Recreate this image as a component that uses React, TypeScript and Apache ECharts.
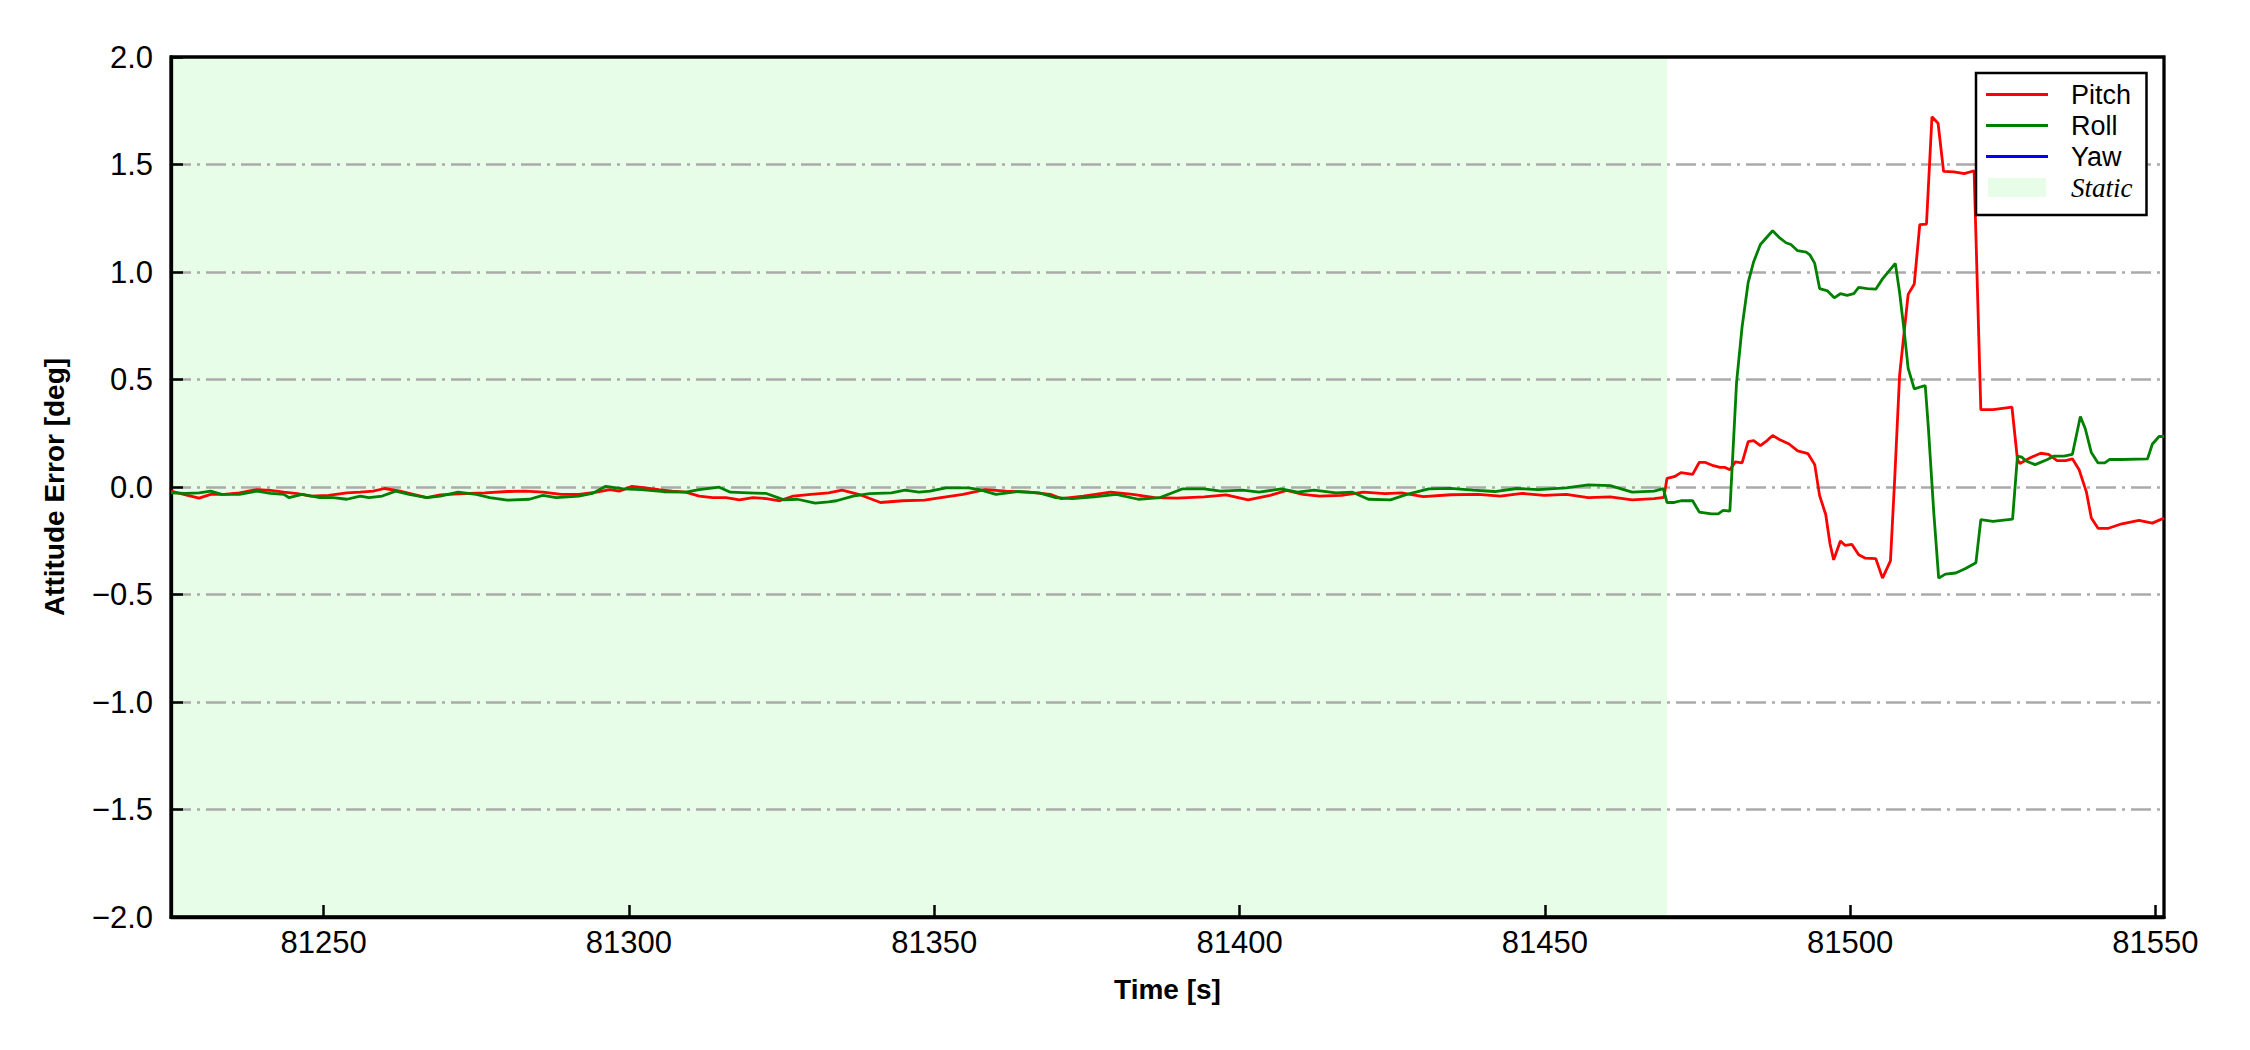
import React, { useEffect, useRef } from "react";
import * as echarts from "echarts";

// ---------- data ----------
const xTickValues = [81250, 81300, 81350, 81400, 81450, 81500, 81550];
const xMin = 81225;
const xMax = 81551.4;
const staticSpan = [81225, 81470];

const pitchTime = [
  81225.0, 81227.4, 81229.6, 81231.5, 81233.7, 81236.2, 81239.1, 81241.3, 81243.5, 81245.7,
  81247.9, 81250.8, 81253.8, 81256.0, 81258.1, 81260.0, 81262.5, 81264.7, 81266.9, 81269.1,
  81272.8, 81276.4, 81280.1, 81283.0, 81285.9, 81288.9, 81291.8, 81294.7, 81296.9, 81298.4,
  81300.5, 81302.7, 81304.9, 81307.1, 81309.3, 81311.5, 81313.7, 81315.9, 81318.1, 81320.3,
  81322.5, 81324.7, 81326.9, 81329.8, 81332.7, 81334.9, 81337.6, 81341.2, 81344.8, 81348.4,
  81351.1, 81354.7, 81358.3, 81361.8, 81365.4, 81369.0, 81370.8, 81374.4, 81378.9, 81382.5,
  81386.1, 81389.7, 81394.2, 81397.8, 81401.4, 81405.0, 81407.7, 81410.4, 81413.1, 81416.7,
  81420.3, 81423.8, 81426.5, 81430.1, 81434.6, 81439.1, 81442.7, 81446.3, 81449.9, 81453.5,
  81457.1, 81460.7, 81464.3, 81467.9, 81469.5,
  81470.0, 81471.2, 81472.3, 81474.2, 81475.3, 81476.2, 81477.6, 81478.7, 81479.5, 81480.3,
  81481.2, 81482.3, 81483.3, 81484.2, 81485.3, 81486.4, 81487.3, 81488.4, 81490.0, 81491.4,
  81493.1, 81494.2, 81495.0, 81496.0, 81496.7, 81497.3, 81498.4, 81499.2, 81500.3, 81501.4,
  81502.5, 81504.2, 81505.3, 81506.6, 81507.3, 81508.1, 81509.5, 81510.5, 81511.4, 81512.5,
  81513.4, 81514.4, 81515.3, 81517.0, 81518.7, 81520.3, 81521.4, 81523.4, 81526.5, 81527.4,
  81527.8, 81529.5, 81531.2, 81532.5, 81533.9, 81535.3, 81536.4, 81537.5, 81538.7, 81539.5,
  81540.6, 81542.3, 81544.5, 81547.3, 81549.5, 81551.4,
];
const pitchValue = [
  -0.019, -0.037, -0.052, -0.034, -0.034, -0.027, -0.012, -0.016, -0.024, -0.031,
  -0.042, -0.039, -0.027, -0.024, -0.019, -0.007, -0.019, -0.034, -0.049, -0.037,
  -0.031, -0.027, -0.021, -0.019, -0.024, -0.034, -0.034, -0.024, -0.012, -0.019,
  0.003, -0.004, -0.012, -0.019, -0.024, -0.042, -0.049, -0.049, -0.06, -0.049,
  -0.054, -0.064, -0.042, -0.034, -0.027, -0.015, -0.034, -0.072, -0.064, -0.061,
  -0.049, -0.034, -0.012, -0.019, -0.024, -0.034, -0.054, -0.042, -0.024, -0.034,
  -0.049, -0.052, -0.046, -0.037, -0.06, -0.039, -0.016, -0.034, -0.042, -0.039,
  -0.024, -0.031, -0.027, -0.045, -0.036, -0.034, -0.042, -0.03, -0.039, -0.034,
  -0.049, -0.046, -0.06, -0.054, -0.048,
  0.04, 0.048, 0.067, 0.059, 0.115, 0.115, 0.099, 0.091, 0.091, 0.08,
  0.117, 0.112, 0.211, 0.216, 0.192, 0.216, 0.24, 0.221, 0.2, 0.168,
  0.155, 0.104, -0.04, -0.128, -0.264, -0.339, -0.251, -0.272, -0.267, -0.315,
  -0.331, -0.333, -0.424, -0.344, 0.04, 0.52, 0.896, 0.944, 1.22, 1.223,
  1.722, 1.692, 1.468, 1.466, 1.458, 1.471, 0.36, 0.36, 0.371, 0.128,
  0.109, 0.136, 0.157, 0.152, 0.123, 0.123, 0.131, 0.08, -0.024, -0.144,
  -0.192, -0.192, -0.171, -0.155, -0.168, -0.144,
];

const rollTime = [
  81225.0, 81227.4, 81229.6, 81231.5, 81233.3, 81236.2, 81239.1, 81241.3, 81243.5, 81244.3,
  81246.5, 81249.4, 81251.6, 81253.8, 81256.0, 81257.4, 81259.6, 81261.8, 81264.0, 81266.9,
  81269.1, 81272.0, 81275.0, 81277.2, 81280.1, 81283.7, 81285.9, 81288.1, 81291.8, 81294.0,
  81296.2, 81299.1, 81302.0, 81305.7, 81309.3, 81311.5, 81314.8, 81316.6, 81319.6, 81322.5,
  81325.4, 81327.6, 81330.5, 81332.7, 81334.0, 81336.7, 81339.4, 81343.0, 81345.2, 81347.5,
  81349.3, 81351.9, 81355.6, 81357.4, 81360.1, 81363.6, 81367.2, 81369.9, 81372.6, 81376.2,
  81379.8, 81383.4, 81387.0, 81390.6, 81394.2, 81396.9, 81400.5, 81403.2, 81406.8, 81409.5,
  81412.2, 81415.8, 81418.5, 81421.1, 81424.7, 81427.4, 81431.0, 81434.6, 81438.2, 81441.8,
  81445.4, 81449.0, 81453.5, 81457.1, 81460.7, 81464.3, 81467.9, 81469.4,
  81470.0, 81471.2, 81472.3, 81474.2, 81475.3, 81477.3, 81478.4, 81479.2, 81480.3, 81481.4,
  81482.3, 81483.3, 81484.2, 81485.3, 81487.3, 81488.4, 81489.5, 81490.3, 81491.4, 81492.8,
  81493.4, 81494.2, 81495.0, 81496.3, 81497.4, 81498.4, 81499.5, 81500.6, 81501.4, 81502.8,
  81504.2, 81505.3, 81507.4, 81508.1, 81508.9, 81509.5, 81510.5, 81512.3, 81512.8, 81513.7,
  81514.5, 81515.6, 81517.3, 81518.9, 81520.6, 81521.4, 81523.4, 81526.6, 81527.4, 81528.1,
  81528.9, 81530.3, 81532.3, 81533.4, 81535.0, 81536.4, 81537.7, 81538.5, 81539.5, 81540.6,
  81541.7, 81542.5, 81544.5, 81548.7, 81549.5, 81550.6, 81551.4,
];
const rollValue = [
  -0.027, -0.03, -0.027, -0.019, -0.034, -0.034, -0.019, -0.03, -0.034, -0.049,
  -0.034, -0.049, -0.049, -0.057, -0.042, -0.049, -0.042, -0.019, -0.034, -0.049,
  -0.042, -0.024, -0.034, -0.049, -0.061, -0.057, -0.039, -0.049, -0.042, -0.03,
  0.003, -0.009, -0.012, -0.022, -0.024, -0.012, -0.001, -0.024, -0.027, -0.03,
  -0.06, -0.057, -0.075, -0.069, -0.064, -0.042, -0.031, -0.027, -0.015, -0.024,
  -0.019, -0.004, -0.004, -0.012, -0.034, -0.021, -0.027, -0.049, -0.054, -0.046,
  -0.034, -0.057, -0.049, -0.009, -0.009, -0.019, -0.015, -0.024, -0.009, -0.024,
  -0.015, -0.027, -0.024, -0.057, -0.06, -0.034, -0.009, -0.006, -0.015, -0.021,
  -0.007, -0.012, -0.004, 0.01, 0.006, -0.024, -0.019, -0.008,
  -0.072, -0.072, -0.064, -0.064, -0.117, -0.125, -0.125, -0.109, -0.112, 0.488,
  0.744, 0.952, 1.048, 1.128, 1.192, 1.16, 1.136, 1.128, 1.099, 1.092,
  1.08, 1.04, 0.923, 0.912, 0.88, 0.899, 0.891, 0.899, 0.928, 0.923,
  0.92, 0.968, 1.04, 0.904, 0.712, 0.552, 0.456, 0.472, 0.28, -0.12,
  -0.424, -0.405, -0.4, -0.379, -0.352, -0.152, -0.16, -0.149, 0.144, 0.139,
  0.12, 0.104, 0.128, 0.144, 0.144, 0.152, 0.328, 0.272, 0.16, 0.112,
  0.112, 0.128, 0.128, 0.131, 0.2, 0.235, 0.235,
];

const yawTime: number[] = [];
const yawValue: number[] = [];

const seriesNames = ["Pitch", "Roll", "Yaw", "Static"];
const seriesColors = ["#ff0000", "#008000", "#0000ff", "#e8fde8"];

const zip = (t: number[], v: number[]) => t.map((x, i) => [x, v[i]]);

const fmtY = (v: number) => (v < 0 ? "\u2212" : "") + Math.abs(v).toFixed(1);

export default function App() {
  const ref = useRef<HTMLDivElement>(null);

  useEffect(() => {
    if (!ref.current) return;
    const chart = echarts.init(ref.current, null, { renderer: "svg" });
    const lineIcon = "path://M0,0H62V3H0Z";
    const option: any = {
      animation: false,
      backgroundColor: "#ffffff",
      grid: {
        show: true,
        left: 171,
        right: 86,
        top: 57,
        bottom: 133,
        borderColor: "#000",
        borderWidth: 3.3,
        backgroundColor: "transparent",
      },
      legend: {
        orient: "vertical",
        left: 1976,
        top: 73,
        padding: [8, 14, 14, 10],
        itemWidth: 62,
        itemHeight: 19,
        itemGap: 4,
        borderColor: "#000",
        borderWidth: 2.5,
        borderRadius: 0,
        backgroundColor: "#fff",
        itemStyle: { borderWidth: 0 },
        textStyle: {
          fontSize: 27,
          lineHeight: 27,
          color: "#000",
          fontFamily: "Liberation Sans, Arial, sans-serif",
          padding: [0, 0, 0, 18],
        },
        data: [
          { name: seriesNames[0], icon: lineIcon },
          { name: seriesNames[1], icon: lineIcon },
          { name: seriesNames[2], icon: lineIcon },
          {
            name: seriesNames[3],
            icon: "path://M0,0H58V19H0Z",
            textStyle: { fontFamily: "Liberation Serif, Times New Roman, serif", fontStyle: "italic" },
          },
        ],
      },
      xAxis: {
        type: "value",
        min: xMin,
        max: xMax,
        name: "Time [s]",
        nameLocation: "middle",
        nameGap: 58,
        nameTextStyle: {
          fontSize: 28,
          fontWeight: "bold",
          color: "#000",
          fontFamily: "Liberation Sans, Arial, sans-serif",
        },
        axisLine: { show: true, onZero: false, lineStyle: { color: "#000", width: 3.3 } },
        axisTick: {
          show: true,
          inside: true,
          length: 12,
          customValues: xTickValues,
          lineStyle: { color: "#000", width: 2.5 },
        },
        axisLabel: {
          customValues: xTickValues,
          fontSize: 31,
          margin: 10,
          color: "#000",
          fontFamily: "Liberation Sans, Arial, sans-serif",
          formatter: (v: number) => String(Math.round(v)),
        },
        splitLine: { show: false },
      },
      yAxis: {
        type: "value",
        min: -2,
        max: 2,
        interval: 0.5,
        name: "Attitude Error [deg]",
        nameLocation: "middle",
        nameGap: 103,
        nameRotate: 90,
        nameTextStyle: {
          fontSize: 28,
          fontWeight: "bold",
          color: "#000",
          fontFamily: "Liberation Sans, Arial, sans-serif",
        },
        axisLine: { show: true, lineStyle: { color: "#000", width: 3.3 } },
        axisTick: { show: true, inside: true, length: 12, lineStyle: { color: "#000", width: 2.5 } },
        axisLabel: {
          fontSize: 31,
          margin: 18,
          color: "#000",
          fontFamily: "Liberation Sans, Arial, sans-serif",
          formatter: fmtY,
        },
        splitLine: {
          show: true,
          showMinLine: false,
          showMaxLine: false,
          lineStyle: { color: "#aaaaaa", width: 2.5, type: [20, 6, 3, 6] },
        },
      },
      series: [
        {
          name: seriesNames[0],
          type: "line",
          data: zip(pitchTime, pitchValue),
          showSymbol: false,
          symbol: "none",
          color: seriesColors[0],
          lineStyle: { width: 2.8, color: seriesColors[0] },
          z: 3,
        },
        {
          name: seriesNames[1],
          type: "line",
          data: zip(rollTime, rollValue),
          showSymbol: false,
          symbol: "none",
          color: seriesColors[1],
          lineStyle: { width: 2.8, color: seriesColors[1] },
          z: 4,
        },
        {
          name: seriesNames[2],
          type: "line",
          data: zip(yawTime, yawValue),
          showSymbol: false,
          symbol: "none",
          color: seriesColors[2],
          lineStyle: { width: 2.8, color: seriesColors[2] },
          z: 5,
        },
        {
          name: seriesNames[3],
          type: "line",
          data: [],
          showSymbol: false,
          symbol: "none",
          color: seriesColors[3],
          markArea: {
            silent: true,
            z: -1,
            itemStyle: { color: seriesColors[3], borderWidth: 0 },
            data: [[{ xAxis: staticSpan[0] }, { xAxis: staticSpan[1] }]],
          },
        },
      ],
    };
    chart.setOption(option);
    return () => chart.dispose();
  }, []);

  return (
    <div
      ref={ref}
      style={{ position: "absolute", left: 0, top: 0, width: 2250, height: 1050, background: "#fff" }}
    />
  );
}
